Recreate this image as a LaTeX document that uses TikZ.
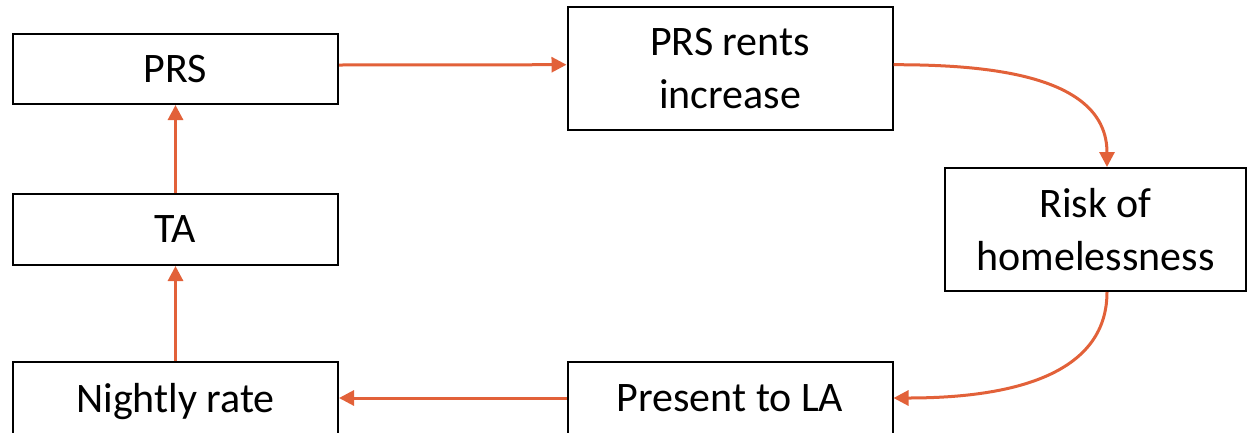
\documentclass[tikz,border=0pt]{standalone}
\usepackage{fontspec}
\setmainfont{Carlito}
\usetikzlibrary{arrows.meta}
\definecolor{arr}{RGB}{226,97,57}
\tikzset{
  box/.style={draw=black, line width=2pt, fill=white, inner sep=0pt, align=center,
    font=\fontsize{42}{53}\selectfont},
  link/.style={draw=arr, line width=3pt, -{Triangle[length=15pt,width=15pt]}}
}
\begin{document}
\begin{tikzpicture}[x=1pt,y=-1pt]
\useasboundingbox (0,0) rectangle (1250,432);
\clip (0,0) rectangle (1250,432);
\node[box, minimum width=325pt, minimum height=70pt] (prs) at (175.5,69) {PRS};
\node[box, minimum width=325pt, minimum height=123pt] (rents) at (730,68.7) {PRS rents\\increase};
\node[box, minimum width=301pt, minimum height=123pt] (risk) at (1095.5,229.5) {Risk of\\homelessness};
\node[box, minimum width=325pt, minimum height=71pt] (ta) at (175.5,229.5) {TA};
\node[box, minimum width=325pt, minimum height=72pt, text depth=0pt] (night) at (175.5,398) {Nightly rate};
\node[box, minimum width=325pt, minimum height=72pt] (present) at (730,398) {Present to LA};
\draw[link] ([yshift=4pt]prs.east) -- ([yshift=4pt]rents.west);
\draw[link] ([yshift=4pt]rents.east) to[out=0,in=90] ([xshift=11.5pt]risk.north);
\draw[link] ([xshift=11.5pt]risk.south) to[out=270,in=0] (present.east);
\draw[link] (present.west) -- (night.east);
\draw[link] (night.north) -- (ta.south);
\draw[link] (ta.north) -- (prs.south);
\end{tikzpicture}
\end{document}
